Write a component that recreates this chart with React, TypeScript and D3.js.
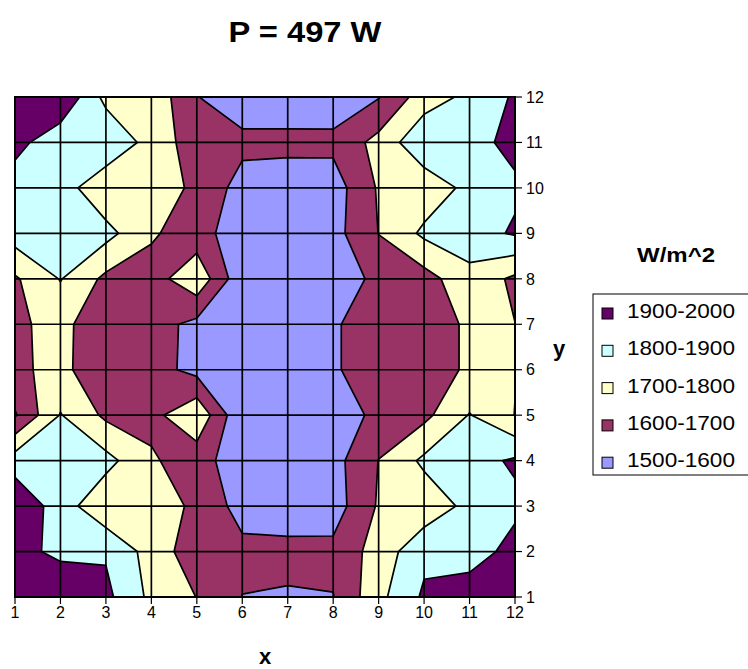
import React, { useRef, useEffect } from "react";
import * as d3 from "d3";

// irradiance in W/m^2, one row per y value (12 at the top down to 1), columns x = 1..12
const row12 = [1950, 1995, 1770, 1772, 1604, 1530, 1530, 1540, 1595, 1751, 1824, 1913];
const row11 = [1935, 1828, 1889, 1760, 1649, 1630, 1630, 1625, 1732, 1880, 1870, 1925];
const row10 = [1845, 1850, 1720, 1724, 1691, 1555, 1540, 1552, 1711, 1735, 1828, 1885];
const row9 = [1850, 1860, 1833, 1714, 1642, 1540, 1530, 1564, 1702, 1820, 1860, 1911];
const row8 = [1687, 1805, 1677, 1654, 1775, 1525, 1520, 1530, 1630, 1660, 1767, 1680];
const row7 = [1683, 1730, 1627, 1640, 1573, 1530, 1520, 1587, 1660, 1680, 1706, 1701];
const row6 = [1680, 1730, 1619, 1640, 1569, 1530, 1520, 1587, 1660, 1680, 1706, 1704];
const row5 = [1590, 1805, 1680, 1670, 1781, 1511, 1520, 1510, 1640, 1674, 1805, 1698];
const row4 = [1850, 1860, 1833, 1714, 1642, 1540, 1530, 1564, 1702, 1820, 1860, 1915];
const row3 = [1985, 1850, 1720, 1724, 1691, 1555, 1540, 1552, 1711, 1735, 1828, 1877];
const row2 = [1935, 1875, 1889, 1760, 1640, 1630, 1630, 1625, 1742, 1875, 1849, 1937];
const row1 = [1970, 1990, 1925, 1776, 1698, 1598, 1590, 1597, 1772, 1916, 1960, 1990];
const rows = [row12, row11, row10, row9, row8, row7, row6, row5, row4, row3, row2, row1];

const xTicks = [1, 2, 3, 4, 5, 6, 7, 8, 9, 10, 11, 12];
const yTicks = [1, 2, 3, 4, 5, 6, 7, 8, 9, 10, 11, 12];

// bands, lowest first
const thresholds = [1500, 1600, 1700, 1800, 1900];
const bandColors = ["#9999FF", "#993366", "#FFFFCC", "#CCFFFF", "#660066"];
const bandLabels = ["1500-1600", "1600-1700", "1700-1800", "1800-1900", "1900-2000"];

const FONT = "'Liberation Sans', Arial, sans-serif";

const App: React.FC = () => {
  const ref = useRef<SVGSVGElement | null>(null);
  const width = 748;
  const height = 669;

  useEffect(() => {
    const svg = d3.select(ref.current);
    svg.selectAll("*").remove();

    const left = 15, right = 515, top = 97, bottom = 597;
    const x = d3.scaleLinear().domain([1, 12]).range([left, right]);
    const y = d3.scaleLinear().domain([1, 12]).range([bottom, top]);

    // d3.contours wants row 0 = y 1
    const values = rows.slice().reverse().flat();
    const contours = d3.contours().size([12, 12]).thresholds(thresholds)(values);

    const proj = d3.geoTransform({
      point(px: number, py: number) {
        (this as any).stream.point(x(px + 0.5), y(py + 0.5));
      },
    });
    const path = d3.geoPath(proj);

    svg
      .append("defs")
      .append("clipPath")
      .attr("id", "plotClip")
      .append("rect")
      .attr("x", left)
      .attr("y", top)
      .attr("width", right - left)
      .attr("height", bottom - top);

    const plot = svg.append("g").attr("clip-path", "url(#plotClip)");

    plot
      .selectAll("path.band")
      .data(contours)
      .join("path")
      .attr("class", "band")
      .attr("d", (d) => path(d as any))
      .attr("fill", (d, i) => bandColors[i])
      .attr("stroke", "#000")
      .attr("stroke-width", 1.7)
      .attr("stroke-linejoin", "round");

    // grid
    plot
      .selectAll("line.vx")
      .data(xTicks)
      .join("line")
      .attr("x1", (d) => x(d))
      .attr("x2", (d) => x(d))
      .attr("y1", top)
      .attr("y2", bottom)
      .attr("stroke", "#000")
      .attr("stroke-width", 1.7);

    plot
      .selectAll("line.hy")
      .data(yTicks)
      .join("line")
      .attr("x1", left)
      .attr("x2", right)
      .attr("y1", (d) => y(d))
      .attr("y2", (d) => y(d))
      .attr("stroke", "#000")
      .attr("stroke-width", 1.7);

    svg
      .append("rect")
      .attr("x", left)
      .attr("y", top)
      .attr("width", right - left)
      .attr("height", bottom - top)
      .attr("fill", "none")
      .attr("stroke", "#000")
      .attr("stroke-width", 2);

    // bottom axis
    const xAxis = svg.append("g");
    xAxis
      .selectAll("line")
      .data(xTicks)
      .join("line")
      .attr("x1", (d) => x(d))
      .attr("x2", (d) => x(d))
      .attr("y1", bottom)
      .attr("y2", bottom + 7)
      .attr("stroke", "#000")
      .attr("stroke-width", 1.2);
    xAxis
      .selectAll("text")
      .data(xTicks)
      .join("text")
      .attr("x", (d) => x(d))
      .attr("y", bottom + 21)
      .attr("text-anchor", "middle")
      .attr("font-family", FONT)
      .attr("font-size", 16)
      .text((d) => d);

    // right axis
    const yAxis = svg.append("g");
    yAxis
      .selectAll("line")
      .data(yTicks)
      .join("line")
      .attr("x1", right)
      .attr("x2", right + 7)
      .attr("y1", (d) => y(d))
      .attr("y2", (d) => y(d))
      .attr("stroke", "#000")
      .attr("stroke-width", 1.2);
    yAxis
      .selectAll("text")
      .data(yTicks)
      .join("text")
      .attr("x", right + 11)
      .attr("y", (d) => y(d))
      .attr("dy", "0.36em")
      .attr("font-family", FONT)
      .attr("font-size", 16)
      .text((d) => d);

    // titles
    svg
      .append("text")
      .attr("x", 305)
      .attr("y", 42)
      .attr("text-anchor", "middle")
      .attr("font-family", FONT)
      .attr("font-weight", "bold")
      .attr("font-size", 30)
      .attr("textLength", 153)
      .attr("lengthAdjust", "spacingAndGlyphs")
      .text("P = 497 W");

    svg
      .append("text")
      .attr("x", (left + right) / 2)
      .attr("y", 664)
      .attr("text-anchor", "middle")
      .attr("font-family", FONT)
      .attr("font-weight", "bold")
      .attr("font-size", 22)
      .text("x");

    svg
      .append("text")
      .attr("x", 559)
      .attr("y", 356)
      .attr("text-anchor", "middle")
      .attr("font-family", FONT)
      .attr("font-weight", "bold")
      .attr("font-size", 22)
      .text("y");

    // legend
    svg
      .append("text")
      .attr("x", 676)
      .attr("y", 262)
      .attr("text-anchor", "middle")
      .attr("font-family", FONT)
      .attr("font-weight", "bold")
      .attr("font-size", 20)
      .attr("textLength", 78)
      .attr("lengthAdjust", "spacingAndGlyphs")
      .text("W/m^2");

    svg
      .append("rect")
      .attr("x", 593)
      .attr("y", 294)
      .attr("width", 170)
      .attr("height", 181)
      .attr("fill", "#fff")
      .attr("stroke", "#000")
      .attr("stroke-width", 1);

    const legendOrder = d3.range(bandLabels.length).reverse();
    const item = svg
      .append("g")
      .selectAll("g")
      .data(legendOrder)
      .join("g")
      .attr("transform", (d, i) => `translate(602,${308 + i * 37.3})`);
    item
      .append("rect")
      .attr("width", 11)
      .attr("height", 11)
      .attr("fill", (d) => bandColors[d])
      .attr("stroke", "#000")
      .attr("stroke-width", 1);
    item
      .append("text")
      .attr("x", 25)
      .attr("y", 10)
      .attr("font-family", FONT)
      .attr("font-size", 20)
      .attr("textLength", 108)
      .attr("lengthAdjust", "spacingAndGlyphs")
      .text((d) => bandLabels[d]);
  }, []);

  return (
    <svg
      ref={ref}
      width={width}
      height={height}
      style={{ position: "absolute", left: 0, top: 0, background: "#fff" }}
    ></svg>
  );
};

export default App;
